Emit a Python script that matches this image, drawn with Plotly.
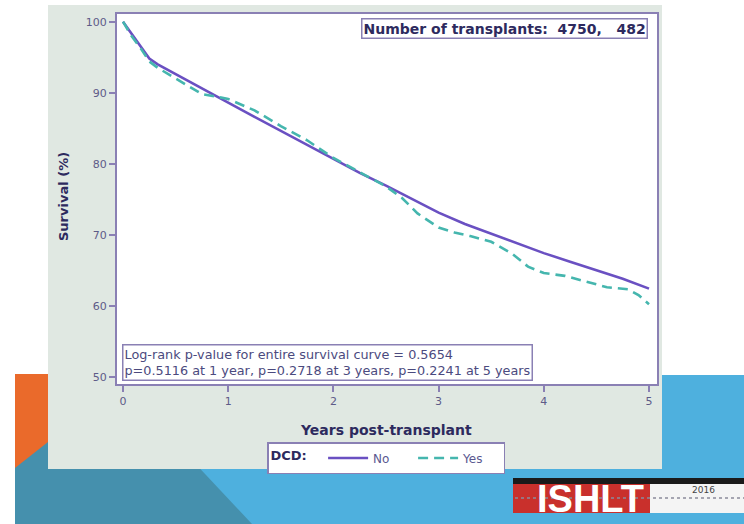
import plotly.graph_objects as go

# ---------------- data ----------------
years_no = [0, 0.08, 0.17, 0.25, 0.33, 0.5, 0.75, 1.0, 1.25, 1.5, 1.75, 2.0, 2.25,
            2.5, 2.75, 3.0, 3.25, 3.5, 3.75, 4.0, 4.25, 4.5, 4.75, 5.0]
surv_no = [100, 98.3, 96.5, 94.8, 94.0, 92.6, 90.6, 88.6, 86.6, 84.6, 82.6, 80.6, 78.7,
           76.9, 75.0, 73.1, 71.5, 70.1, 68.8, 67.4, 66.2, 65.0, 63.8, 62.4]

years_yes = [0, 0.08, 0.17, 0.25, 0.33, 0.5, 0.6, 0.75, 0.9, 1.0, 1.25, 1.5, 1.75, 2.0,
             2.25, 2.5, 2.65, 2.8, 3.0, 3.15, 3.3, 3.5, 3.7, 3.85, 4.0, 4.2, 4.4, 4.6,
             4.8, 4.9, 5.0]
surv_yes = [100, 98.0, 96.2, 94.4, 93.5, 92.0, 91.2, 89.8, 89.4, 89.1, 87.5, 85.3, 83.3,
            80.8, 78.8, 76.8, 75.2, 73.0, 71.0, 70.3, 69.8, 69.0, 67.3, 65.5, 64.6, 64.2,
            63.4, 62.6, 62.3, 61.5, 60.2]

series_names = ["No", "Yes"]
x_ticks = [0, 1, 2, 3, 4, 5]
y_ticks = [50, 60, 70, 80, 90, 100]
n_transplants = [4750, 482]
logrank_p = "0.5654"
p_at_years = [("0.5116", "1 year"), ("0.2718", "3 years"), ("0.2241", "5 years")]

# ---------------- geometry ----------------
W, H = 744, 524
L, R, T, B = 117, 657, 14, 384  # plot-area pixel box


def px(x):
    return (x - L) / (R - L)


def py(y):
    return (B - y) / (B - T)


def rect(x0, y0, x1, y1, color, line=None):
    d = dict(type="rect", xref="paper", yref="paper", x0=px(x0), x1=px(x1),
             y0=py(y1), y1=py(y0), fillcolor=color, layer="below",
             line=dict(width=0) if line is None else line)
    return d


def poly(pts, color):
    path = "M " + " L ".join(f"{px(a):.5f},{py(b):.5f}" for a, b in pts) + " Z"
    return dict(type="path", xref="paper", yref="paper", path=path,
                fillcolor=color, line=dict(width=0), layer="below")


PURPLE = "#6a50c2"
TEAL = "#45b6ae"
NAVY = "#2d2a5e"
FRAME = "#8a80b4"
TICKC = "#5e5b88"
FONT = "DejaVu Sans"

fig = go.Figure()
fig.add_trace(go.Scatter(x=years_no, y=surv_no, mode="lines", name=series_names[0],
                         line=dict(color=PURPLE, width=2.6)))
fig.add_trace(go.Scatter(x=years_yes, y=surv_yes, mode="lines", name=series_names[1],
                         line=dict(color=TEAL, width=2.6, dash="10px,6px")))

shapes = [
    rect(48, 375, 744, 524, "#4eb0de"),                       # light blue band
    rect(15, 374, 60, 470, "#ea6a2b"),                        # orange bar
    poly([(15, 468), (48, 442), (175, 442), (252, 524), (15, 524)], "#4590ad"),
    rect(48, 5, 662, 469, "#e0e8e2"),                         # chart panel
    rect(L, T, R, B, "white"),                                # plot area
    # ISHLT logo
    rect(513, 478, 744, 484, "#1a1a1a"),
    rect(513, 484, 650, 513, "#c9302c"),
    rect(650, 484, 744, 513, "#f4f4f4"),
    dict(type="line", xref="paper", yref="paper", x0=px(515), x1=px(744),
         y0=py(498), y1=py(498), line=dict(color="#8a8a9a", width=1.5, dash="dot"),
         layer="below"),
]

annotations = [
    dict(xref="paper", yref="paper", x=px(648), y=py(18), xanchor="right", yanchor="top",
         text=f"<b>Number of transplants:  {n_transplants[0]},   {n_transplants[1]}</b>",
         showarrow=False, font=dict(family=FONT, size=14, color=NAVY),
         bgcolor="white", bordercolor=FRAME, borderwidth=1.5, borderpad=1),
    dict(xref="paper", yref="paper", x=px(122), y=py(344), xanchor="left", yanchor="top",
         align="left", showarrow=False,
         text=(f"Log-rank p-value for entire survival curve = {logrank_p}<br>"
               + ", ".join(f"p={p} at {t}" for p, t in p_at_years)),
         font=dict(family=FONT, size=12.8, color="#4b4a7e"),
         bgcolor="white", bordercolor=FRAME, borderwidth=1.5, borderpad=1),
    dict(xref="paper", yref="paper", x=px(590), y=py(499), xanchor="center", yanchor="middle",
         text="<b>ISHLT</b>", showarrow=False,
         font=dict(family="Liberation Sans", size=38, color="white")),
    dict(xref="paper", yref="paper", x=px(703), y=py(490), xanchor="center", yanchor="middle",
         text="2016", showarrow=False,
         font=dict(family=FONT, size=9, color="#444444")),
    dict(xref="paper", yref="paper", x=px(63), y=py(197), xanchor="center", yanchor="middle",
         text="<b>Survival (%)</b>", textangle=-90, showarrow=False,
         font=dict(family=FONT, size=13, color=NAVY)),
    dict(xref="paper", yref="paper", x=px(386), y=py(430), xanchor="center", yanchor="middle",
         text="<b>Years post-transplant</b>", showarrow=False,
         font=dict(family=FONT, size=14, color=NAVY)),
]

fig.update_layout(
    width=W, height=H, autosize=False,
    margin=dict(l=L, r=W - R, t=T, b=H - B),
    paper_bgcolor="white", plot_bgcolor="white",
    font=dict(family=FONT, color=TICKC),
    shapes=shapes, annotations=annotations,
    showlegend=True,
    legend=dict(orientation="h", x=px(386), y=py(442), xanchor="center", yanchor="top",
                bgcolor="white", bordercolor=FRAME, borderwidth=1.5,
                title=dict(text="<b>DCD:</b>  ", side="left",
                           font=dict(family=FONT, size=13, color=NAVY)),
                font=dict(family=FONT, size=12, color="#5a5890"),
                itemwidth=40, entrywidth=35, tracegroupgap=0),
    xaxis=dict(range=[-0.057, 5.076], tickvals=x_ticks, ticks="outside", ticklen=6,
               tickcolor=FRAME, tickwidth=1.5, showline=True, linecolor=FRAME, linewidth=2,
               mirror=True, showgrid=False, zeroline=False,
               tickfont=dict(family=FONT, size=11, color=TICKC)),
    yaxis=dict(range=[48.97, 101.08], tickvals=y_ticks, ticks="outside", ticklen=6,
               tickcolor=FRAME, tickwidth=1.5, showline=True, linecolor=FRAME, linewidth=2,
               mirror=True, showgrid=False, zeroline=False,
               tickfont=dict(family=FONT, size=11, color=TICKC)),
)

fig.write_html("out.html")
